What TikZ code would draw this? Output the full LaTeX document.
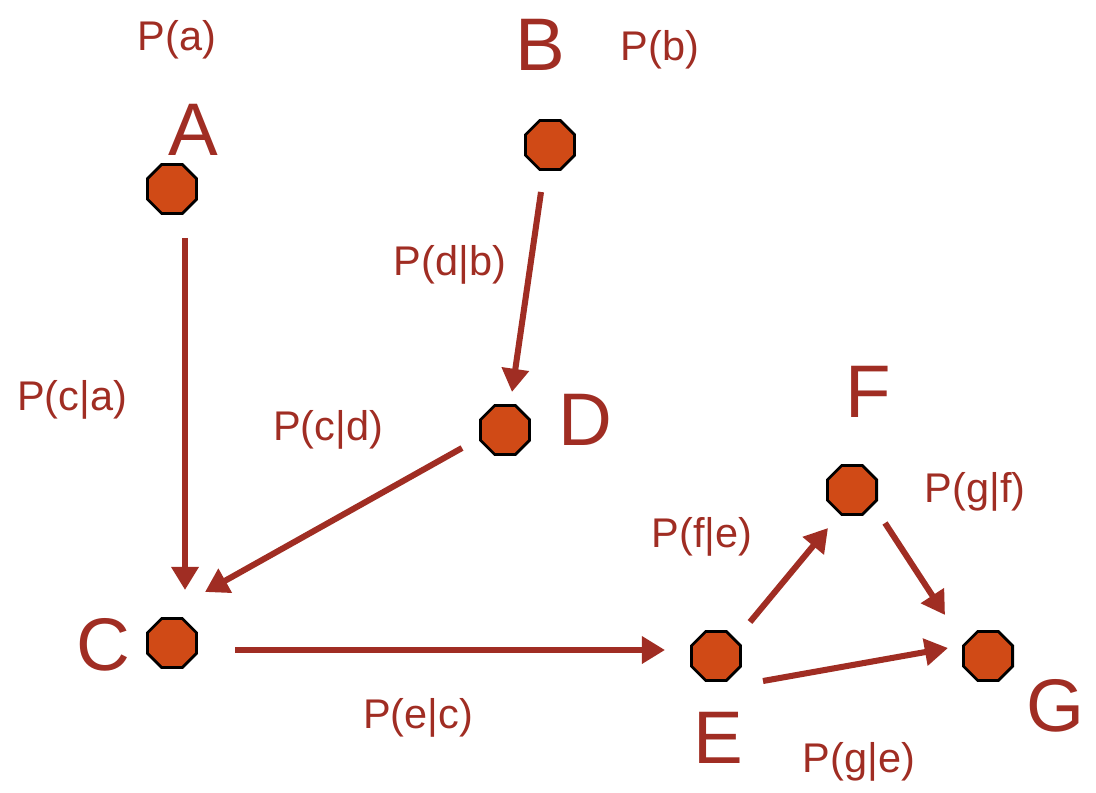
\documentclass[tikz,border=0pt]{standalone}
\usepackage{fontspec}
\setmainfont{Liberation Sans}
\usetikzlibrary{positioning,arrows.meta,shapes.geometric,calc}
\definecolor{nodecol}{RGB}{208,74,22}
\definecolor{inkcol}{RGB}{160,45,35}

\begin{document}
\begin{tikzpicture}[x=0.025cm, y=-0.025cm,
  oct/.style={regular polygon, regular polygon sides=8, draw=black, line width=2pt,
              fill=nodecol, minimum size=1.33cm, inner sep=0pt},
  ltr/.style={font=\fontsize{53}{53}\selectfont, text=inkcol},
  prob/.style={font=\fontsize{29.5}{29.5}\selectfont, text=inkcol},
  ar/.style={-{Triangle[length=0.58cm, width=0.66cm]}, line width=4.3pt, draw=inkcol}
]
\useasboundingbox (0,0) rectangle (1096,793);

\node[oct] (a) at (172,189) {};
\node[oct] (b) at (550,145) {};
\node[oct] (c) at (172,643) {};
\node[oct] (d) at (505,430) {};
\node[oct] (e) at (716,656) {};
\node[oct] (f) at (852,490) {};
\node[oct] (g) at (988,656) {};

\node[ltr] (la) at (193,130) {A};
\node[ltr] (lb) at (540,45)  {B};
\node[ltr] (lc) at (103,645) {C};
\node[ltr] (ld) at (585,420) {D};
\node[ltr] (le) at (718,738) {E};
\node[ltr] (lf) at (868,392) {F};
\node[ltr] (lg) at (1055,706) {G};

\node[prob] (pa)  at (177,40)  {P(a)};
\node[prob] (pb)  at (660,50)  {P(b)};
\node[prob] (pdb) at (450,265) {P(d|b)};
\node[prob] (pca) at (72,400)  {P(c|a)};
\node[prob] (pcd) at (328,430) {P(c|d)};
\node[prob] (pfe) at (702,537) {P(f|e)};
\node[prob] (pgf) at (975,492) {P(g|f)};
\node[prob] (pec) at (418,718) {P(e|c)};
\node[prob] (pge) at (859,762) {P(g|e)};

\draw[ar] ($(a)+(13,49)$)  -- ($(c)+(13,-53)$);
\draw[ar] ($(b)+(-9,47)$)  -- ($(d)+(7,-38)$);
\draw[ar] ($(d)+(-43,18)$) -- ($(c)+(33,-51)$);
\draw[ar] ($(c)+(63,7)$)   -- ($(e)+(-51,-6)$);
\draw[ar] ($(e)+(34,-34)$) -- ($(f)+(-24,38)$);
\draw[ar] ($(f)+(33,33)$)  -- ($(g)+(-43,-41)$);
\draw[ar] ($(e)+(47,25)$)  -- ($(g)+(-40,-8)$);

\end{tikzpicture}
\end{document}
